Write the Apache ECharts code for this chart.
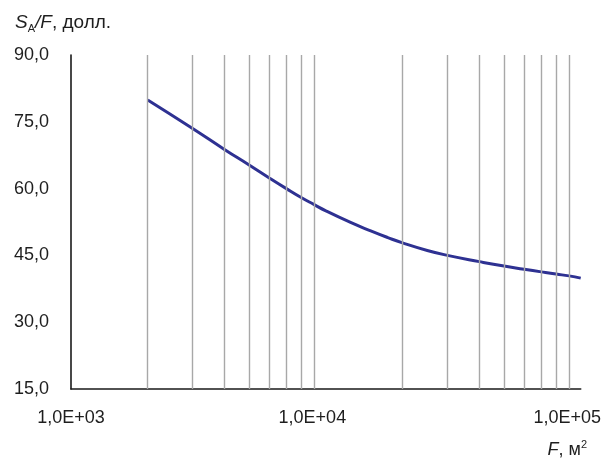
<!DOCTYPE html>
<html>
<head>
<meta charset="utf-8">
<script src="https://cdn.jsdelivr.net/npm/echarts@6/dist/echarts.min.js"></script>
<style>
html,body{margin:0;padding:0;background:#fff;}
#chart{width:604px;height:464px;}
</style>
</head>
<body>
<div id="chart"></div>
<script>
// Data
const xValues = [2000, 3000, 4000, 5000, 6000, 7000, 8000, 9000, 10000, 12500, 15000, 17500, 20000, 25000, 30000, 40000, 50000, 60000, 70000, 80000, 90000, 100000];
const yValues = [79.9, 73.5, 68.8, 65.3, 62.4, 60.0, 58.0, 56.4, 55.0, 52.4, 50.5, 49.0, 47.8, 46.1, 45.0, 43.6, 42.6, 41.9, 41.3, 40.8, 40.4, 39.9];
const gridLinesX = [2000, 3000, 4000, 5000, 6000, 7000, 8000, 9000, 20000, 30000, 40000, 50000, 60000, 70000, 80000, 90000];
const xTickLabels = {1000: '1,0E+03', 10000: '1,0E+04', 100000: '1,0E+05'};
const yTickLabels = {15: '15,0', 30: '30,0', 45: '45,0', 60: '60,0', 75: '75,0', 90: '90,0'};

const FONT = '"Liberation Sans", Arial, sans-serif';
const FS = 18;
const TXT = '#1e1e1e';

const chart = echarts.init(document.getElementById('chart'), null, {renderer: 'canvas'});
chart.setOption({
  animation: false,
  backgroundColor: '#fff',
  textStyle: {fontFamily: FONT},
  title: [{
    left: 10, top: 7,
    text: '{i|S}{sub|A}{i|/F}{n|, долл.}',
    textStyle: {
      fontFamily: FONT,
      fontWeight: 'normal',
      rich: {
        i: {fontStyle: 'italic', fontWeight: 'normal', fontSize: 19, lineHeight: 22, color: TXT, fontFamily: FONT},
        n: {fontWeight: 'normal', fontSize: 19, lineHeight: 22, color: TXT, fontFamily: FONT},
        sub: {fontWeight: 'normal', fontSize: 11, lineHeight: 11, verticalAlign: 'bottom', color: TXT, fontFamily: FONT}
      }
    }
  }, {
    right: 12, top: 434,
    text: '{i|F}{n|, м}{sup|2}',
    textStyle: {
      fontFamily: FONT,
      fontWeight: 'normal',
      rich: {
        i: {fontStyle: 'italic', fontWeight: 'normal', fontSize: FS, lineHeight: 22, color: TXT, fontFamily: FONT},
        n: {fontWeight: 'normal', fontSize: FS, lineHeight: 22, color: TXT, fontFamily: FONT},
        sup: {fontWeight: 'normal', fontSize: 11, lineHeight: 11, verticalAlign: 'top', color: TXT, fontFamily: FONT}
      }
    }
  }],
  grid: {left: 71, right: 20, top: 55, bottom: 75, containLabel: false},
  xAxis: {
    type: 'log',
    logBase: 10,
    min: 1000,
    max: 100000,
    axisLine: {show: true, onZero: false, lineStyle: {color: '#1a1a1a', width: 1.6}},
    axisTick: {show: false},
    splitLine: {show: false},
    minorTick: {show: false},
    axisLabel: {
      margin: 20,
      fontFamily: FONT,
      fontSize: FS,
      color: TXT,
      showMinLabel: true,
      showMaxLabel: true,
      formatter: function (v) {
        const key = Math.round(v);
        const t = xTickLabels[key] || '';
        if (key === 1000) return '{a|' + t + '}';
        return '{b|' + t + '}';
      },
      rich: {
        a: {fontFamily: FONT, fontSize: FS, color: TXT},
        b: {fontFamily: FONT, fontSize: FS, color: TXT, padding: [0, 27, 0, 0]}
      }
    }
  },
  yAxis: {
    type: 'value',
    min: 15,
    max: 90,
    interval: 15,
    axisLine: {show: true, onZero: false, lineStyle: {color: '#1a1a1a', width: 1.6}},
    axisTick: {show: false},
    splitLine: {show: false},
    axisLabel: {
      margin: 22,
      fontFamily: FONT,
      fontSize: FS,
      color: TXT,
      formatter: function (v) { return yTickLabels[Math.round(v)] || ''; }
    }
  },
  series: [{
    type: 'line',
    name: 'grid',
    data: [],
    z: 1,
    silent: true,
    markLine: {
      silent: true,
      symbol: ['none', 'none'],
      label: {show: false},
      lineStyle: {color: '#a8a8a8', width: 1.4, type: 'solid'},
      emphasis: {disabled: true},
      data: gridLinesX.map(v => ({xAxis: v}))
    }
  }, {
    type: 'line',
    name: 'SA/F',
    z: 3,
    data: xValues.map((x, i) => [x, yValues[i]]),
    smooth: 0.5,
    showSymbol: false,
    symbol: 'none',
    lineStyle: {color: '#2e3192', width: 3}
  }]
});
</script>
</body>
</html>
